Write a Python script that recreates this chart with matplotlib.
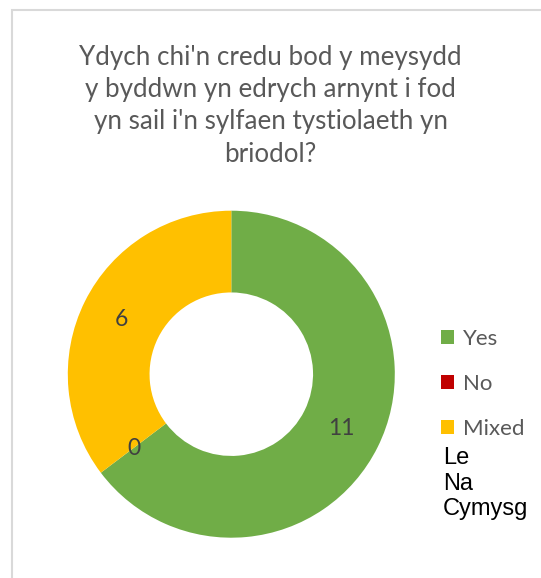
import matplotlib
matplotlib.use("Agg")
import numpy as np
from matplotlib import pyplot as plt
from matplotlib.patches import Rectangle

# chart data
categories = ["Yes", "No", "Mixed"]
counts = [11, 0, 6]
colors = ["#70AD47", "#C00000", "#FFC000"]
title = ("Ydych chi'n credu bod y meysydd\n"
         "y byddwn yn edrych arnynt i fod\n"
         "yn sail i'n sylfaen tystiolaeth yn\n"
         "briodol?")
extra_legend = "Le\nNa\nCymysg"

W, H = 541, 578
fig = plt.figure(figsize=(W / 100, H / 100), dpi=100)

# light grey chart border, cut off at right and bottom
fig.patches.append(Rectangle((12 / W, -0.1), 1.2, (H - 10) / H + 0.1,
                             transform=fig.transFigure, fill=False,
                             edgecolor="#D9D9D9", linewidth=1.5))

# doughnut
cx, cy, r = 231.3, 374.2, 163.5
ax = fig.add_axes([(cx - r) / W, (H - cy - r) / H, 2 * r / W, 2 * r / H])
wedges, _ = ax.pie(counts, colors=colors, startangle=90, counterclock=False,
                   radius=1, wedgeprops=dict(width=0.5, linewidth=0))
ax.set_xlim(-1, 1)
ax.set_ylim(-1, 1)
ax.set_aspect("equal")
ax.axis("off")

# value labels in the middle of the ring
for w, v in zip(wedges, counts):
    mid = np.deg2rad((w.theta1 + w.theta2) / 2)
    ax.text(0.75 * np.cos(mid), 0.75 * np.sin(mid), str(v),
            ha="center", va="center", fontsize=16.5, color="#404040",
            family="Lato")

fig.text(0.5, 1 - 106 / H, title, ha="center", va="center",
         fontsize=18.7, color="#595959", family="Lato", linespacing=1.35)

leg = ax.legend(wedges, categories, loc="upper left",
                bbox_to_anchor=(441 / W, 1 - 329 / H),
                bbox_transform=fig.transFigure, frameon=False,
                prop=dict(family="Lato", size=16), labelcolor="#595959",
                handlelength=0.6, handleheight=0.6, handletextpad=0.4,
                labelspacing=1.12, borderpad=0, borderaxespad=0)

fig.text(443 / W, 1 - 447 / H, extra_legend, ha="left", va="top",
         fontsize=17, color="black", family="Liberation Sans",
         linespacing=1.22)

fig.savefig("out.png", dpi=100)
